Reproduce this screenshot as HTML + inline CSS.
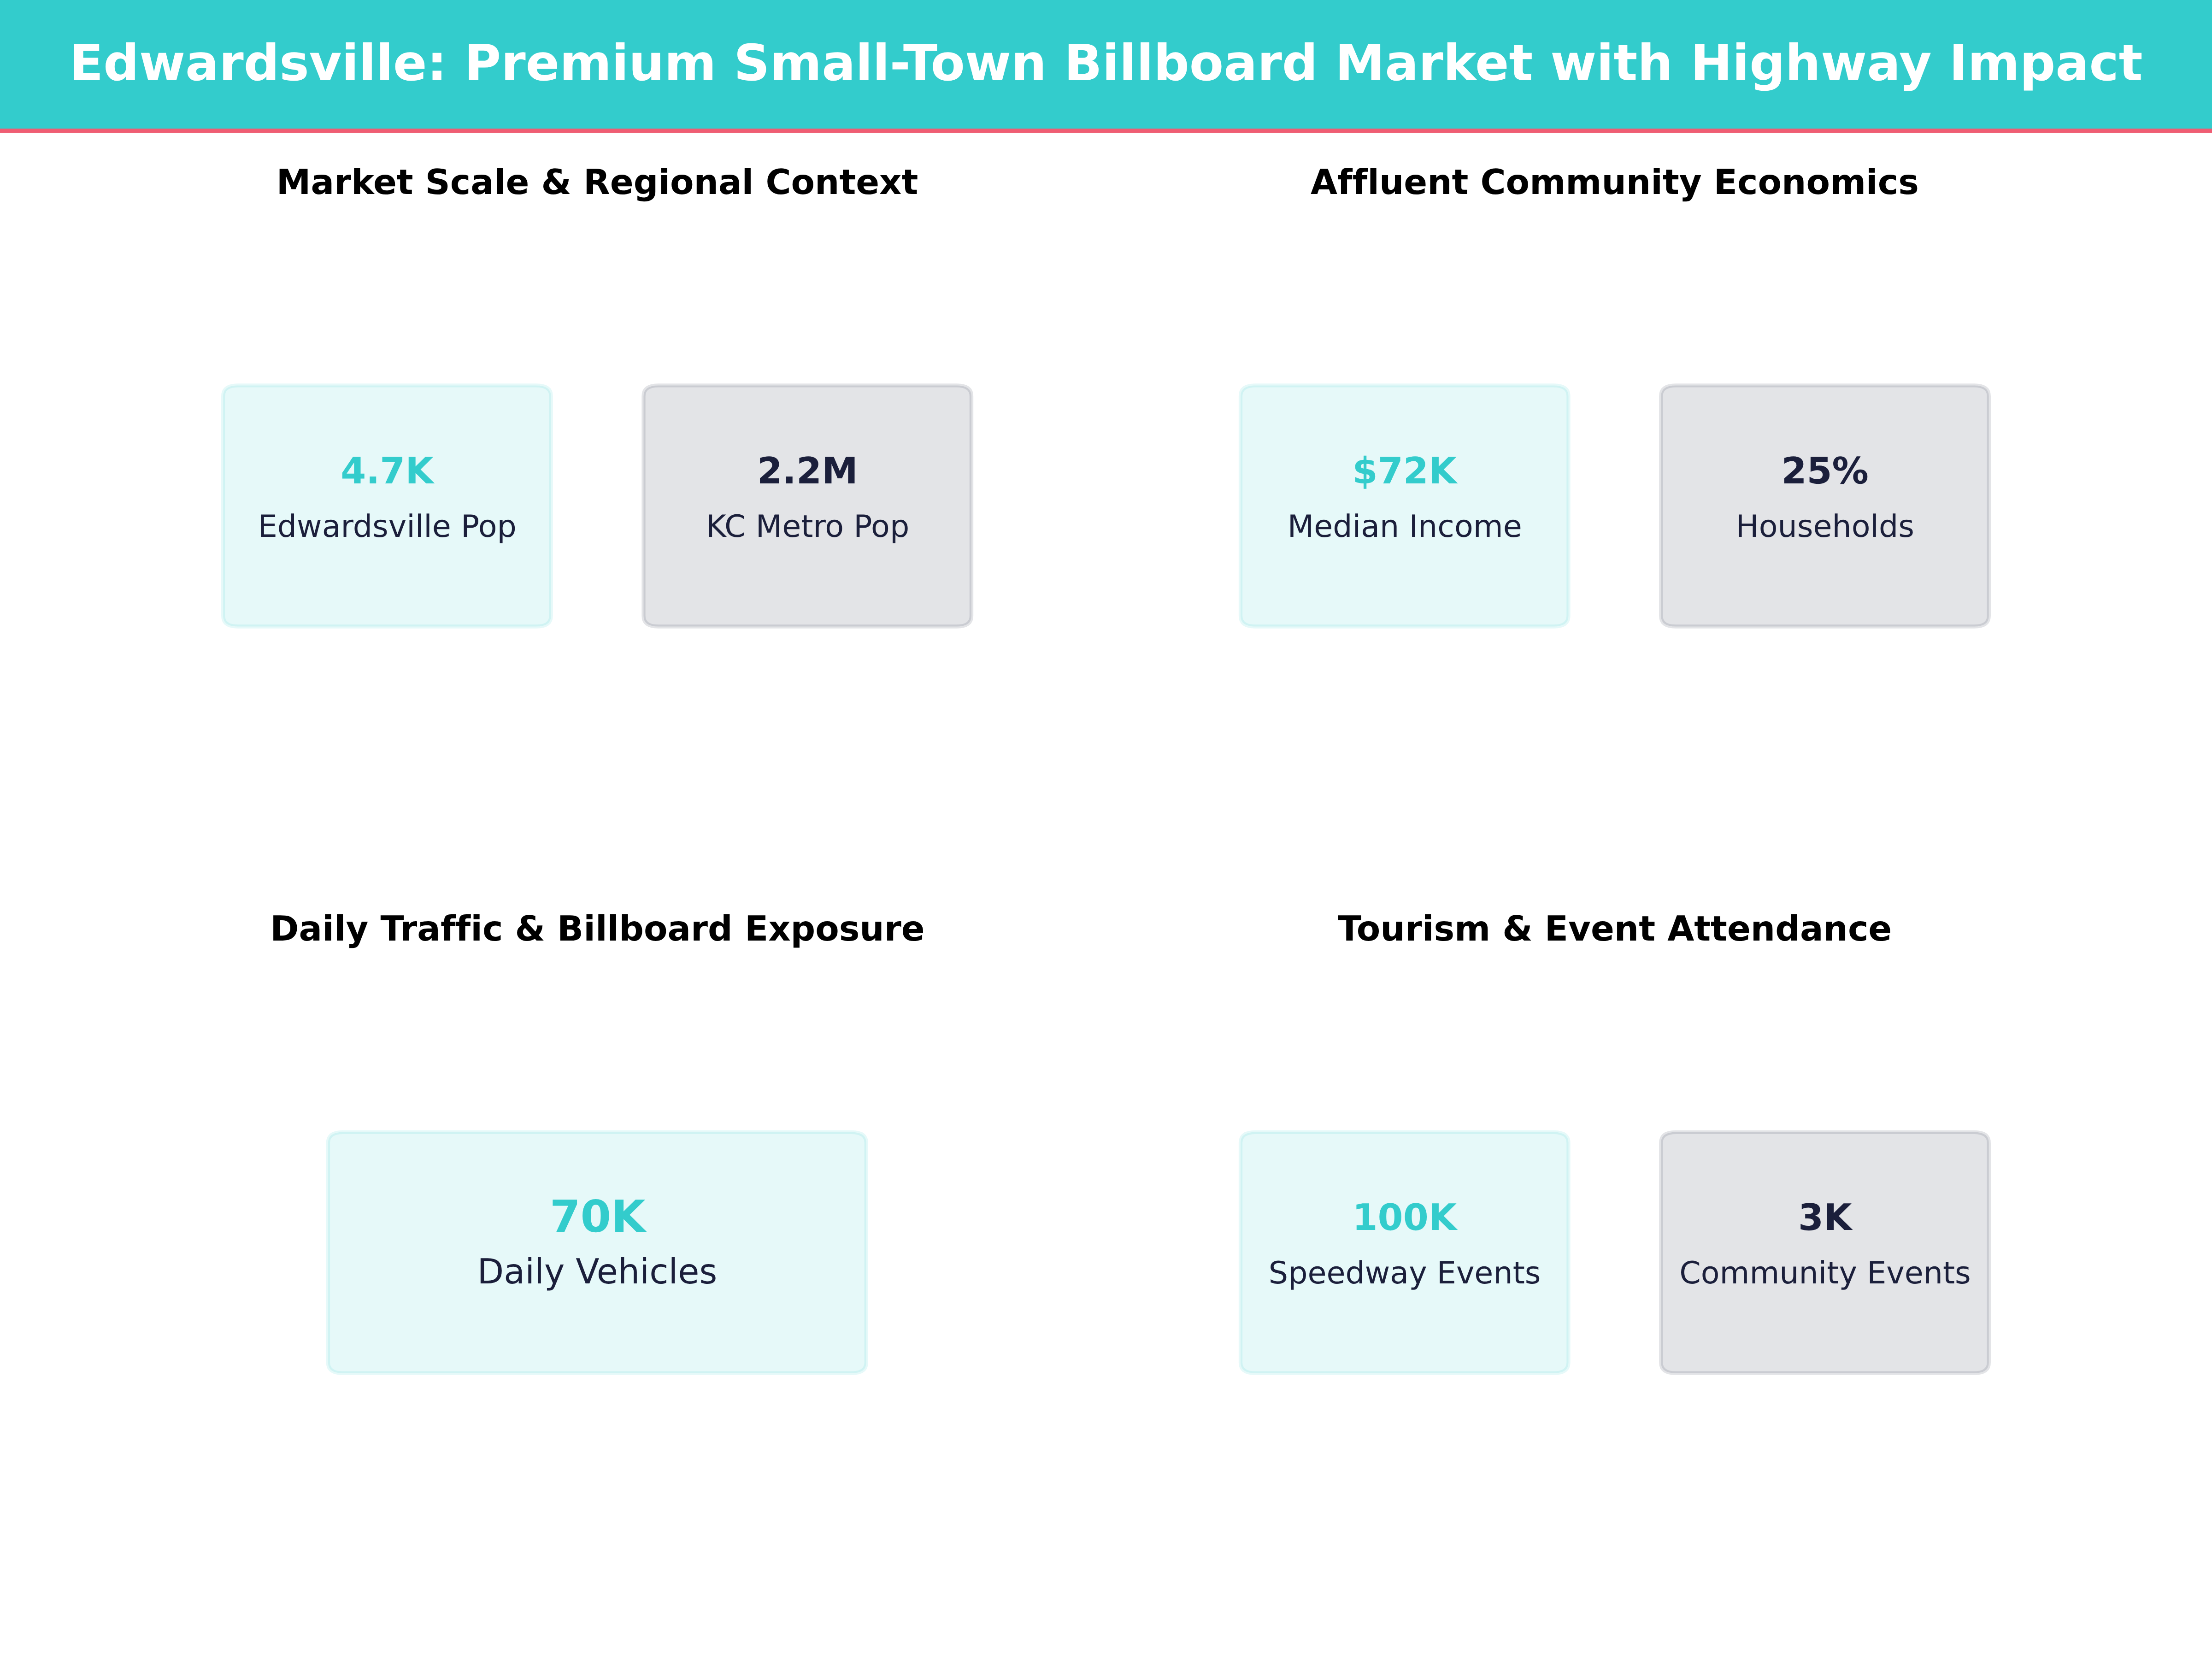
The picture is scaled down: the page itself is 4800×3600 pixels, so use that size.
<!DOCTYPE html>
<html lang="en">
<head>
<meta charset="utf-8">
<title>Edwardsville: Premium Small-Town Billboard Market with Highway Impact</title>
<style>
html,body{margin:0;padding:0;background:#fff;}
body{width:4800px;height:3600px;overflow:hidden;}
svg{display:block;}
text{font-family:"DejaVu Sans","Liberation Sans",sans-serif;font-kerning:normal;font-variant-ligatures:none;font-feature-settings:"liga" 0,"clig" 0;text-rendering:geometricPrecision;white-space:pre;}
.b{font-weight:700;}
</style>
</head>
<body>
<svg width="4800" height="3600" viewBox="0 0 4800 3600">
<rect x="0" y="0" width="4800" height="3600" fill="#ffffff"/>
<rect x="0" y="0" width="4800" height="288" fill="#33cccc"/>
<rect x="0" y="279" width="4800" height="9" fill="#ef5d73"/>
<path d="M516.2 836.4L1163.7 836.4Q1195.7 836.4 1195.7 859.4L1195.7 1336.5Q1195.7 1359.5 1163.7 1359.5L516.2 1359.5Q484.2 1359.5 484.2 1336.5L484.2 859.4Q484.2 836.4 516.2 836.4Z" fill="#33cccc" fill-opacity="0.12" stroke="#33cccc" stroke-opacity="0.12" stroke-width="8.33" stroke-linejoin="round"/>
<path d="M1428.5 836.4L2076.0 836.4Q2108.0 836.4 2108.0 859.4L2108.0 1336.5Q2108.0 1359.5 2076.0 1359.5L1428.5 1359.5Q1396.5 1359.5 1396.5 1336.5L1396.5 859.4Q1396.5 836.4 1428.5 836.4Z" fill="#1b1f3b" fill-opacity="0.12" stroke="#1b1f3b" stroke-opacity="0.12" stroke-width="8.33" stroke-linejoin="round"/>
<path d="M2724.0 836.4L3371.5 836.4Q3403.5 836.4 3403.5 859.4L3403.5 1336.5Q3403.5 1359.5 3371.5 1359.5L2724.0 1359.5Q2692.0 1359.5 2692.0 1336.5L2692.0 859.4Q2692.0 836.4 2724.0 836.4Z" fill="#33cccc" fill-opacity="0.12" stroke="#33cccc" stroke-opacity="0.12" stroke-width="8.33" stroke-linejoin="round"/>
<path d="M3636.3 836.4L4283.8 836.4Q4315.8 836.4 4315.8 859.4L4315.8 1336.5Q4315.8 1359.5 4283.8 1359.5L3636.3 1359.5Q3604.3 1359.5 3604.3 1336.5L3604.3 859.4Q3604.3 836.4 3636.3 836.4Z" fill="#1b1f3b" fill-opacity="0.12" stroke="#1b1f3b" stroke-opacity="0.12" stroke-width="8.33" stroke-linejoin="round"/>
<path d="M743.9 2456.8L1847.8 2456.8Q1879.8 2456.8 1879.8 2479.8L1879.8 2956.7Q1879.8 2979.7 1847.8 2979.7L743.9 2979.7Q711.9 2979.7 711.9 2956.7L711.9 2479.8Q711.9 2456.8 743.9 2456.8Z" fill="#33cccc" fill-opacity="0.12" stroke="#33cccc" stroke-opacity="0.12" stroke-width="8.33" stroke-linejoin="round"/>
<path d="M2724.0 2456.8L3371.5 2456.8Q3403.5 2456.8 3403.5 2479.8L3403.5 2956.7Q3403.5 2979.7 3371.5 2979.7L2724.0 2979.7Q2692.0 2979.7 2692.0 2956.7L2692.0 2479.8Q2692.0 2456.8 2724.0 2456.8Z" fill="#33cccc" fill-opacity="0.12" stroke="#33cccc" stroke-opacity="0.12" stroke-width="8.33" stroke-linejoin="round"/>
<path d="M3636.3 2456.8L4283.8 2456.8Q4315.8 2456.8 4315.8 2479.8L4315.8 2956.7Q4315.8 2979.7 4283.8 2979.7L3636.3 2979.7Q3604.3 2979.7 3604.3 2956.7L3604.3 2479.8Q3604.3 2456.8 3636.3 2456.8Z" fill="#1b1f3b" fill-opacity="0.12" stroke="#1b1f3b" stroke-opacity="0.12" stroke-width="8.33" stroke-linejoin="round"/>
<text class="b" x="150.25" y="174" font-size="108.333" fill="#ffffff" letter-spacing="0.0588">Edwardsville: Premium Small-Town Billboard Market with Highway Impact</text>
<text class="b" x="599.85" y="421" font-size="75.000" fill="#000000">Market Scale &amp; Regional Context</text>
<text class="b" x="2843.96" y="421" font-size="75.000" fill="#000000">Affluent Community Economics</text>
<text class="b" x="586.16" y="2041" font-size="75.000" fill="#000000">Daily Traffic &amp; Billboard Exposure</text>
<text class="b" x="2902.65" y="2041" font-size="75.000" fill="#000000">Tourism &amp; Event Attendance</text>
<text class="b" x="739.20" y="1049" font-size="79.167" fill="#33cccc">4.7K</text>
<text x="559.70" y="1165" font-size="66.667" fill="#1b1f3b">Edwardsville Pop</text>
<text class="b" x="1642.81" y="1049" font-size="79.167" fill="#1b1f3b">2.2M</text>
<text x="1531.94" y="1165" font-size="66.667" fill="#1b1f3b">KC Metro Pop</text>
<text class="b" x="2934.62" y="1049" font-size="79.167" fill="#33cccc">$72K</text>
<text x="2793.81" y="1165" font-size="66.667" fill="#1b1f3b">Median Income</text>
<text class="b" x="3865.43" y="1049" font-size="79.167" fill="#1b1f3b">25%</text>
<text x="3766.61" y="1165" font-size="66.667" fill="#1b1f3b">Households</text>
<text class="b" x="1192.94" y="2673" font-size="95.833" fill="#33cccc">70K</text>
<text x="1035.54" y="2785" font-size="75.000" fill="#1b1f3b">Daily Vehicles</text>
<text class="b" x="2934.56" y="2669" font-size="79.167" fill="#33cccc">100K</text>
<text x="2752.87" y="2785" font-size="66.667" fill="#1b1f3b">Speedway Events</text>
<text class="b" x="3901.93" y="2669" font-size="79.167" fill="#1b1f3b">3K</text>
<text x="3644.18" y="2785" font-size="66.667" fill="#1b1f3b">Community Events</text>
</svg>
</body>
</html>
